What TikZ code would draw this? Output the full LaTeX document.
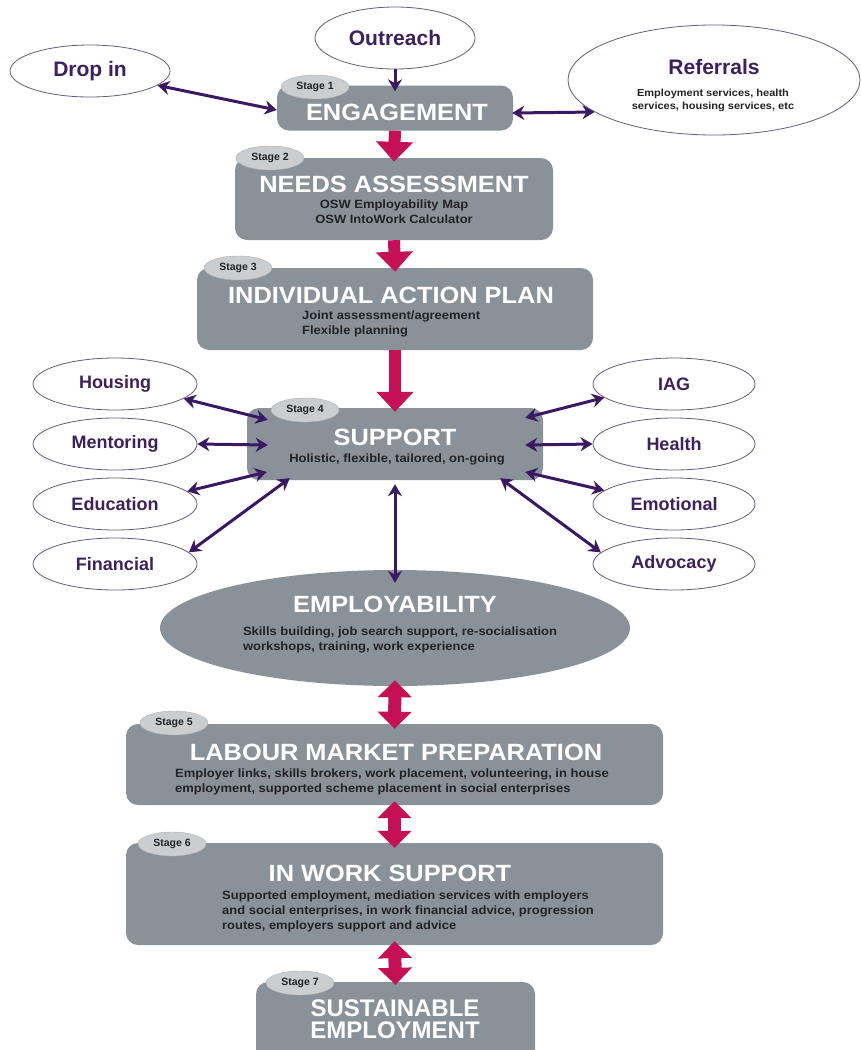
\documentclass[tikz,border=0pt]{standalone}
\usepackage{fontspec}
\setmainfont{Liberation Sans}
\newfontfamily\widesans[FakeStretch=1.08]{Liberation Sans}
\usetikzlibrary{shapes.geometric,arrows.meta,calc}
\definecolor{boxgray}{RGB}{138,146,153}
\definecolor{tabgray}{RGB}{202,206,209}
\definecolor{purpletext}{RGB}{62,32,92}
\definecolor{ovalline}{RGB}{105,90,130}
\definecolor{arrowpurple}{RGB}{58,24,100}
\definecolor{redarrow}{RGB}{198,16,86}
\definecolor{subtext}{RGB}{35,35,38}
\begin{document}
\begin{tikzpicture}[x=1pt,y=-1pt,
  stagebox/.style={fill=boxgray, rounded corners=12pt, inner sep=0pt},
  tab/.style={ellipse, fill=tabgray, draw=tabgray!85!black, line width=0.4pt, minimum width=68pt, minimum height=24pt, inner sep=0pt, text=subtext, font=\bfseries\fontsize{10.5}{12}\selectfont},
  title/.style={text=white, font=\widesans\bfseries\fontsize{23.5}{24}\selectfont, inner sep=0pt, align=center},
  sub/.style={text=subtext, font=\widesans\bfseries\fontsize{12}{15}\selectfont, inner sep=0pt},
  oval/.style={ellipse, draw=ovalline, line width=0.8pt, fill=white, inner sep=0pt, text=purpletext, font=\bfseries\fontsize{18}{20}\selectfont},
  link/.style={draw=arrowpurple, line width=3pt, {Stealth[length=12pt,width=14pt]}-{Stealth[length=12pt,width=14pt]}},
  onelink/.style={draw=arrowpurple, line width=3pt, -{Stealth[length=12pt,width=14pt]}},
  downarrow/.style={draw=redarrow, line width=12pt, -{Triangle[length=20pt,width=36pt]}},
  updown/.style={draw=redarrow, line width=13pt, {Triangle[length=17pt,width=33pt]}-{Triangle[length=17pt,width=33pt]}}
]
\useasboundingbox (0,0) rectangle (861,1050);

% ---------- top ovals ----------
\node[oval, minimum width=160pt, minimum height=62pt, font=\bfseries\fontsize{21}{23}\selectfont] (out) at (395,38) {Outreach};
\node[oval, minimum width=160pt, minimum height=52pt, font=\bfseries\fontsize{21}{23}\selectfont] (drop) at (90,71) {Drop in};
\node[oval, minimum width=292pt, minimum height=110pt] (ref) at (714,80) {};
\node[text=purpletext, font=\bfseries\fontsize{21}{23}\selectfont, inner sep=0pt] (reft) at (714,67) {Referrals};
\node[sub, font=\widesans\bfseries\fontsize{10.2}{13}\selectfont, align=center] (refs) at (713,100) {Employment services, health\\services, housing services, etc};

% ---------- Stage 1 ----------
\node[stagebox, minimum width=236pt, minimum height=45pt] (eng) at (395,108) {};
\node[tab] (t1) at (315,87) {Stage 1};
\node[title] (engt) at (397,112) {ENGAGEMENT};

% ---------- Stage 2 ----------
\node[stagebox, minimum width=318pt, minimum height=82pt] (needs) at (394,199) {};
\node[tab] (t2) at (270,158) {Stage 2};
\node[title] (needst) at (394,184) {NEEDS ASSESSMENT};
\node[sub, align=center] (needss) at (394,212) {OSW Employability Map\\OSW IntoWork Calculator};

% ---------- Stage 3 ----------
\node[stagebox, minimum width=396pt, minimum height=82pt] (iap) at (395,309) {};
\node[tab] (t3) at (238,268) {Stage 3};
\node[title] (iapt) at (391,295) {INDIVIDUAL ACTION PLAN};
\node[sub, align=left, anchor=west] (iaps) at (302,324) {Joint assessment/agreement\\Flexible planning};

% ---------- Stage 4 ----------
\node[stagebox, minimum width=296pt, minimum height=72pt] (sup) at (395,444) {};
\node[tab] (t4) at (305,410) {Stage 4};
\node[title] (supt) at (395,437) {SUPPORT};
\node[sub] (sups) at (397,459) {Holistic, flexible, tailored, on-going};

% ---------- side ovals ----------
\node[oval, minimum width=164pt, minimum height=52pt] (hou) at (115,384) {Housing};
\node[oval, minimum width=164pt, minimum height=52pt] (men) at (115,444) {Mentoring};
\node[oval, minimum width=164pt, minimum height=52pt] (edu) at (115,504) {Education};
\node[oval, minimum width=164pt, minimum height=52pt] (fin) at (115,564) {Financial};
\node[oval, minimum width=162pt, minimum height=52pt] (iag) at (674,384) {IAG};
\node[oval, minimum width=162pt, minimum height=52pt] (hea) at (674,444) {Health};
\node[oval, minimum width=162pt, minimum height=52pt] (emo) at (674,504) {Emotional};
\node[oval, minimum width=162pt, minimum height=52pt] (adv) at (674,564) {Advocacy};

% ---------- Employability ----------
\node[ellipse, fill=boxgray, minimum width=470pt, minimum height=116pt, inner sep=0pt] (emp) at (395,628) {};
\node[title] (empt) at (395,604) {EMPLOYABILITY};
\node[sub, align=left] (emps) at (400,640) {Skills building, job search support, re-socialisation\\workshops, training, work experience};

% ---------- Stage 5 ----------
\node[stagebox, minimum width=537pt, minimum height=81pt] (lab) at (394.5,764.5) {};
\node[tab] (t5) at (174,723) {Stage 5};
\node[title] (labt) at (396,752) {LABOUR MARKET PREPARATION};
\node[sub, align=left, anchor=west] (labs) at (175,782) {Employer links, skills brokers, work placement, volunteering, in house\\employment, supported scheme placement in social enterprises};

% ---------- Stage 6 ----------
\node[stagebox, minimum width=537pt, minimum height=102pt] (iws) at (394.5,894) {};
\node[tab] (t6) at (172,844) {Stage 6};
\node[title] (iwst) at (390,873) {IN WORK SUPPORT};
\node[sub, align=left, anchor=west] (iwss) at (222,911) {Supported employment, mediation services with employers\\and social enterprises, in work financial advice, progression\\routes, employers support and advice};

% ---------- Stage 7 ----------
\node[stagebox, minimum width=279pt, minimum height=80pt] (sus) at (395.5,1022) {};
\node[tab] (t7) at (300,983) {Stage 7};
\node[title, font=\bfseries\fontsize{24}{22}\selectfont] (sust) at (395,1019) {SUSTAINABLE\\EMPLOYMENT};

% ---------- purple connectors ----------
\draw[onelink] (out.south) -- ($(eng.north)+(0,6)$);
\draw[link] (drop.-12) -- ($(eng.west)+(0,2)$);
\draw[link] ($(eng.east)+(-1,5)$) -- (ref.195);

\draw[link] (hou.-12) -- ($(sup.north west)+(21,12)$);
\draw[link] (men.east) -- ($(sup.west)+(21,1)$);
\draw[link] (edu.10) -- ($(sup.west)+(20,28)$);
\draw[link] (fin.9) -- ($(sup.south west)+(43,-2)$);
\draw[link] (iag.191) -- ($(sup.north east)+(-18,10)$);
\draw[link] (hea.west) -- ($(sup.east)+(-18,1)$);
\draw[link] (emo.169) -- ($(sup.east)+(-18,28)$);
\draw[link] (adv.171) -- ($(sup.south east)+(-43,-2)$);
\draw[link] ($(sup.south)+(0,4)$) -- ($(emp.north)+(0,13)$);

% ---------- red arrows ----------
\draw[downarrow] (eng.south) -- ($(needs.north)+(0,4)$);
\draw[downarrow] (needs.south) -- ($(iap.north)+(0,4)$);
\draw[downarrow] (iap.south) -- ($(sup.north)+(0,4)$);
\draw[updown] ($(emp.south)+(0,-6)$) -- ($(lab.north)+(0,5)$);
\draw[updown] ($(lab.south)+(0,-4)$) -- ($(iws.north)+(0,5)$);
\draw[updown] ($(iws.south)+(0,-4)$) -- ($(sus.north)+(0,3)$);
\end{tikzpicture}
\end{document}
